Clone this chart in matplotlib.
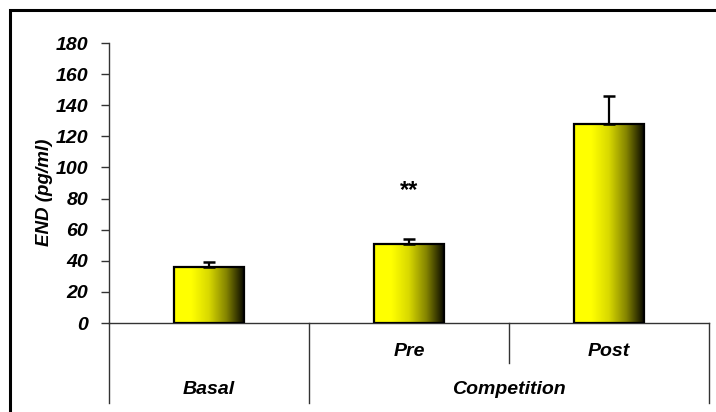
import matplotlib
matplotlib.use('Agg')
import matplotlib.pyplot as plt
import matplotlib.colors as clr
import numpy as np
from matplotlib.patches import Rectangle

# END concentration per condition, with upward SEM
groups = ['Basal', 'Pre', 'Post']
means = [36, 51, 128]
errors = [3, 3, 18]
sig_marks = ['', '**', '']
sig_height = [0, 85, 0]
sub_labels = ['', 'Pre', 'Post']
top_labels = ['Basal', 'Competition']
yticks = [0, 20, 40, 60, 80, 100, 120, 140, 160, 180]

plt.rcParams['font.family'] = ['Liberation Sans', 'DejaVu Sans']

fig = plt.figure(figsize=(7.16, 4.12), dpi=100)
ax = fig.add_axes([109/716, 89/412, 600/716, 280/412])

x = np.arange(len(groups))
bars = ax.bar(x, means, width=0.35, facecolor='none', edgecolor='black',
              linewidth=1.6, zorder=3)

# yellow -> black horizontal fill inside each bar
grad = clr.LinearSegmentedColormap.from_list(
    'yb', [(0, '#ffff00'), (0.25, '#ffff00'), (0.5, '#d8d800'),
           (0.75, '#848400'), (1.0, '#0a0a00')])
ramp = np.linspace(0, 1, 256).reshape(1, -1)
for b in bars:
    im = ax.imshow(ramp, cmap=grad, aspect='auto', zorder=2,
                   extent=[b.get_x(), b.get_x() + b.get_width(), 0, b.get_height()])
    im.set_clip_path(b)

ax.errorbar(x, means, yerr=[np.zeros(len(errors)), errors], fmt='none',
            ecolor='black', elinewidth=1.6, capsize=4.5, capthick=1.8, zorder=4)

for xi, s, h in zip(x, sig_marks, sig_height):
    if s:
        ax.text(xi, h, s, ha='center', va='center', fontsize=17,
                fontweight='bold')

ax.set_xlim(-0.5, 2.5)
ax.set_ylim(0, 180)
ax.set_yticks(yticks)
ax.set_yticklabels([str(t) for t in yticks], fontsize=14, fontweight='bold',
                   fontstyle='italic')
ax.tick_params(axis='y', length=6, width=1, color='#333333', pad=9)
ax.set_xticks([])
for side in ['top', 'right']:
    ax.spines[side].set_visible(False)
for side in ['left', 'bottom']:
    ax.spines[side].set_color('#333333')
    ax.spines[side].set_linewidth(1)

ax.set_ylabel('END (pg/ml)', fontsize=13.5, fontweight='bold', fontstyle='italic')
ax.yaxis.set_label_coords(-0.093, 0.468)

# category table under the axis
for xf, yb in [(0, -0.286), (1/3, -0.286), (2/3, -0.143), (1, -0.286)]:
    ax.plot([xf, xf], [0, yb], transform=ax.transAxes, color='#333333',
            lw=1, clip_on=False)
for xi, s in zip(x, sub_labels):
    if s:
        ax.text(xi, -0.1, s, transform=ax.get_xaxis_transform(), ha='center',
                va='center', fontsize=14, fontweight='bold', fontstyle='italic')
ax.text(0, -0.239, top_labels[0], transform=ax.get_xaxis_transform(),
        ha='center', va='center', fontsize=14, fontweight='bold', fontstyle='italic')
ax.text(1.5, -0.239, top_labels[1], transform=ax.get_xaxis_transform(),
        ha='center', va='center', fontsize=14, fontweight='bold', fontstyle='italic')

# outer frame
fig.add_artist(Rectangle((10/716, -0.2), 2, 1.2 - 10.5/412, transform=fig.transFigure,
                         fill=False, edgecolor='black', linewidth=2.2))

fig.savefig('out.png', dpi=100)
